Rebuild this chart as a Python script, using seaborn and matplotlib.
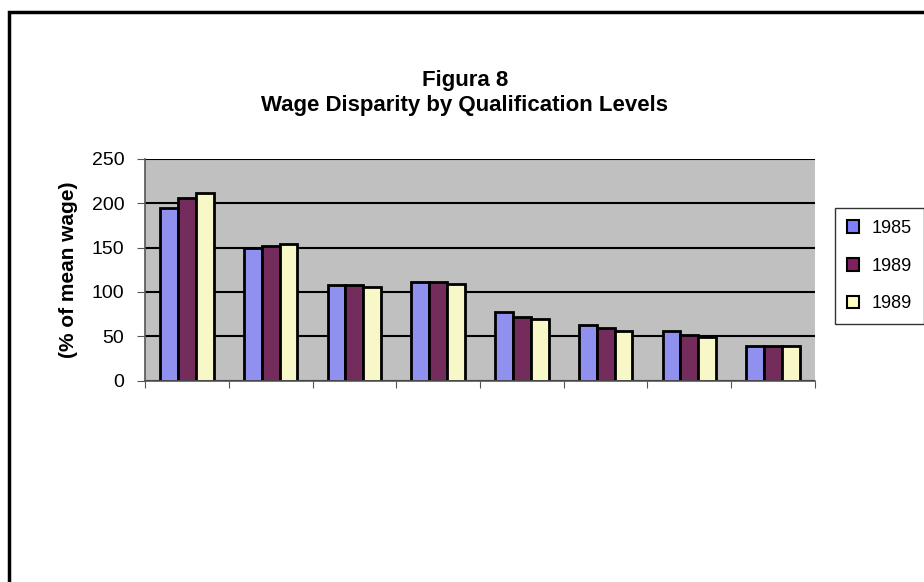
import numpy as np
import pandas as pd
import matplotlib
matplotlib.use("Agg")
import matplotlib.pyplot as plt
import seaborn as sns
from matplotlib.patches import Rectangle, Patch

# Data (qualification levels are unlabeled in the source)
levels = ["L1", "L2", "L3", "L4", "L5", "L6", "L7", "L8"]
series_keys = ["s1985", "s1989a", "s1989b"]
legend_labels = ["1985", "1989", "1989"]
v1985 = [195, 150, 108, 111, 77, 63, 56.5, 38.5]
v1989a = [206, 152, 108, 111, 72, 59, 52, 38.5]
v1989b = [211, 154, 106, 108.5, 70, 56, 49.5, 38.5]
colors = ["#8080FF", "#802060", "#FFFFC0"]

df = pd.DataFrame({
    "level": levels * 3,
    "series": np.repeat(series_keys, len(levels)),
    "value": v1985 + v1989a + v1989b,
})

sns.set_style("white")
plt.rcParams["font.family"] = ["Liberation Sans", "DejaVu Sans"]
plt.rcParams["text.color"] = "black"
plt.rcParams["axes.labelcolor"] = "black"
plt.rcParams["ytick.color"] = "black"

fig = plt.figure(figsize=(9.24, 5.82), dpi=100)
ax = fig.add_axes([0.157, 0.346, 0.725, 0.381])

sns.barplot(data=df, x="level", y="value", hue="series", order=levels,
            hue_order=series_keys, palette=colors, width=0.64, gap=0,
            edgecolor="black", linewidth=2, legend=False, ax=ax)

ax.set_facecolor("#C0C0C0")
ax.set_ylim(0, 250)
ax.set_xlim(-0.5, len(levels) - 0.5)
ax.set_yticks(range(0, 251, 50))
ax.yaxis.grid(True, color="black", linewidth=1.5)
ax.set_axisbelow(True)
ax.tick_params(axis="y", labelsize=14, length=6, direction="out", left=True,
               color="#555555", labelcolor="black", pad=9)

# ticks between categories, no labels
ax.set_xticks(np.arange(-0.5, len(levels), 1.0))
ax.set_xticklabels([])
ax.tick_params(axis="x", length=5, direction="out", bottom=True, color="#555555")
ax.set_xlabel("")
ax.set_ylabel("(% of mean wage)", fontsize=15, fontweight="bold", labelpad=10,
              color="black")

for side in ["top", "right"]:
    ax.spines[side].set_visible(False)
ax.spines["left"].set_color("#555555")
ax.spines["bottom"].set_color("#555555")
ax.spines["left"].set_linewidth(1.2)
ax.spines["bottom"].set_linewidth(1.2)

fig.text(0.5 + 0.003, 0.862, "Figura 8", ha="center", va="center",
         fontsize=16, fontweight="bold", color="black")
fig.text(0.5 + 0.003, 0.818, "Wage Disparity by Qualification Levels",
         ha="center", va="center", fontsize=16, fontweight="bold", color="black")

handles = [Patch(facecolor=c, edgecolor="black", linewidth=1.5) for c in colors]
leg = fig.legend(handles, legend_labels, loc="upper left",
                 bbox_to_anchor=(835 / 924, 1 - 208 / 582), fontsize=13,
                 frameon=True, fancybox=False, edgecolor="black",
                 labelspacing=1.15, handlelength=0.7, handleheight=0.7,
                 handletextpad=0.7, borderpad=0.65, borderaxespad=0)
leg.get_frame().set_linewidth(1.0)
for t in leg.get_texts():
    t.set_color("black")

# outer chart border (its right and bottom edges run past the image)
fig.patches.append(Rectangle((9 / 924, -0.05), 1.1, 1 - 12 / 582 + 0.05,
                             transform=fig.transFigure, fill=False,
                             edgecolor="black", linewidth=2.5))

fig.savefig("out.png", dpi=100, facecolor="white")
